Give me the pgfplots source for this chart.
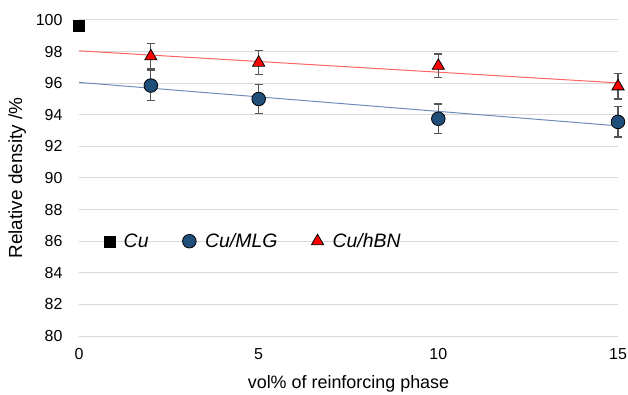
\documentclass[border=0pt]{standalone}
\usepackage{fontspec}
\setmainfont{Liberation Sans}
\usepackage{pgfplots}
\pgfplotsset{compat=1.18}
\definecolor{gridgray}{RGB}{217,217,217}
\definecolor{mlgblue}{RGB}{31,78,121}
\definecolor{bluetrend}{RGB}{110,140,185}
\definecolor{redtrend}{RGB}{255,100,100}
\definecolor{errgray}{RGB}{85,85,85}
\begin{document}
\begin{tikzpicture}
\useasboundingbox (-79bp,-59bp) rectangle (549bp,336bp);
\begin{axis}[
  at={(0,0)}, anchor=south west,
  scale only axis, width=539bp, height=316bp,
  xmin=0, xmax=15, ymin=80, ymax=100,
  xtick={0,5,10,15}, ytick={80,82,...,100},
  axis line style={draw=none},
  major tick length=0pt,
  ymajorgrids, grid style={gridgray, line width=1bp},
  xmajorgrids=false,
  clip=false,
  tick label style={font=\fontsize{16}{18}\selectfont},
  /pgf/number format/assume math mode=true,
  yticklabel style={xshift=-13bp},
  xticklabel style={yshift=-9bp},
  xlabel={vol\% of reinforcing phase},
  ylabel={Relative density /\%},
  xlabel style={font=\fontsize{18}{20}\selectfont, yshift=-9bp},
  ylabel style={font=\fontsize{19}{21}\selectfont, yshift=3bp},
  legend style={at={(axis cs:0.6,86)}, anchor=west, draw=none, fill=none,
    font=\fontsize{19.5}{21}\selectfont\itshape, legend columns=3,
    /tikz/every odd column/.append style={column sep=7bp},
    /tikz/every even column/.append style={column sep=32bp}},
  legend cell align=left,
]
% trend lines
\addplot[redtrend, line width=1bp, forget plot] coordinates {(0,98.05) (15,96.02)};
\addplot[bluetrend, line width=1bp, forget plot] coordinates {(0,96.05) (15,93.3)};
% Cu
\addplot[only marks, mark=square*, mark size=5.5bp, mark options={fill=black, draw=black}] coordinates {(0,99.65)};
\addlegendentry{Cu}
% Cu/MLG
\addplot[only marks, mark=*, mark size=6.8bp, mark options={fill=mlgblue, draw=black, line width=0.8bp},
  error bars/.cd, y dir=both, y explicit,
  error bar style={errgray, line width=1.2bp},
  error mark options={rotate=90, mark size=4bp, errgray, line width=1.2bp}]
  table[x=x, y=y, y error=e] {
x y e
2 95.85 0.95
5 95.0 0.92
10 93.75 0.93
15 93.55 0.95
};
\addlegendentry{Cu/MLG}
% Cu/hBN
\addplot[only marks, mark=triangle*, mark size=7bp, mark options={fill=red, draw=black, line width=0.8bp},
  error bars/.cd, y dir=both, y explicit,
  error bar style={errgray, line width=1.2bp},
  error mark options={rotate=90, mark size=4bp, errgray, line width=1.2bp}]
  table[x=x, y=y, y error=e] {
x y e
2 97.7 0.8
5 97.3 0.75
10 97.1 0.75
15 95.8 0.8
};
\addlegendentry{Cu/hBN}
\end{axis}
\end{tikzpicture}
\end{document}
